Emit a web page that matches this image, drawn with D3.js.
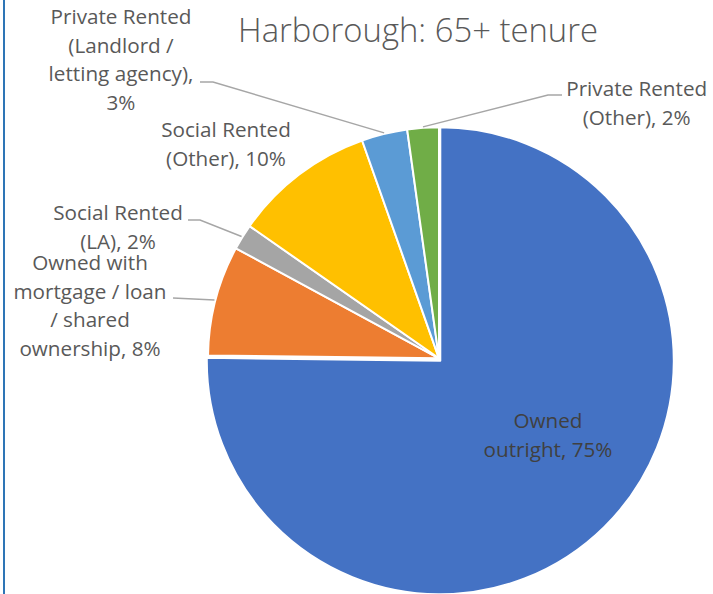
<!DOCTYPE html>
<html>
<head>
<meta charset="utf-8">
<script src="https://cdn.jsdelivr.net/npm/d3@7"></script>
<style>
  html, body { margin: 0; padding: 0; background: #fff; }
  svg { display: block; }
</style>
</head>
<body>
<svg id="chart" width="713" height="594"></svg>
<script>
// ---- data ----
const title = "Harborough: 65+ tenure";
const categories = [
  "Owned outright",
  "Owned with mortgage / loan / shared ownership",
  "Social Rented (LA)",
  "Social Rented (Other)",
  "Private Rented (Landlord / letting agency)",
  "Private Rented (Other)"
];
const values = [75.2, 7.7, 1.8, 9.9, 3.2, 2.2];
const colors = ["#4472C4", "#ED7D31", "#A5A5A5", "#FFC000", "#5B9BD5", "#70AD47"];
// label text broken into lines ({p} = percentage)
const labelLines = [
  ["Owned", "outright, {p}"],
  ["Owned with", "mortgage / loan", "/ shared", "ownership, {p}"],
  ["Social Rented", "(LA), {p}"],
  ["Social Rented", "(Other), {p}"],
  ["Private Rented", "(Landlord /", "letting agency),", "{p}"],
  ["Private Rented", "(Other), {p}"]
];

// ---- layout ----
const W = 713, H = 594;
const cx = 439, cy = 358.3;       // pie centre
const r = 231;                     // radius of small slices
const blueR = 233.5;               // radius of exploded main slice
const blueOffset = [1.3, 2.5];
const labelPos = [
  {x: 548, y: 428.3, fill: "#404040"},
  {x: 90, y: 270},
  {x: 118, y: 220},
  {x: 226, y: 137},
  {x: 121, y: 24},
  {x: 636.7, y: 96}
];
const lineH = 28.7;
const leaderElbows = [null, [[173, 298]], [[188, 220], [200, 220]], null, [[200, 82], [213, 82]], [[562, 95], [548, 95]]];

const svg = d3.select("#chart");
const FONT = "'Open Sans', 'Noto Sans', sans-serif";

// left border line
svg.append("line").attr("x1", 4).attr("x2", 4).attr("y1", 0).attr("y2", H)
  .attr("stroke", "#2E75B6").attr("stroke-width", 2);

// fit font sizes against measured reference widths
function fitSize(text, targetW, weight) {
  const t = svg.append("text").attr("font-family", FONT).attr("font-size", 100)
    .attr("font-weight", weight || 400).text(text);
  const w = t.node().getComputedTextLength();
  t.remove();
  return 100 * targetW / w;
}
const labelSize = fitSize("Private Rented", 141);
const titleSize = fitSize(title, 360, 300);

// title
svg.append("text")
  .attr("x", 418).attr("y", 42.3)
  .attr("text-anchor", "middle")
  .attr("font-family", FONT).attr("font-weight", 300)
  .attr("font-size", titleSize)
  .attr("fill", "#595959")
  .text(title);

// pie
const pie = d3.pie().sort(null).value(d => d)(values);
const arcSmall = d3.arc().innerRadius(0).outerRadius(r);
const arcBlue = d3.arc().innerRadius(0).outerRadius(blueR);

const g = svg.append("g").attr("transform", `translate(${cx},${cy})`);
g.selectAll("path.slice").data(pie).join("path")
  .attr("class", "slice")
  .attr("d", (d, i) => i === 0 ? arcBlue(d) : arcSmall(d))
  .attr("transform", (d, i) => i === 0 ? `translate(${blueOffset[0]},${blueOffset[1]})` : null)
  .attr("fill", (d, i) => colors[i])
  .attr("stroke", "#fff").attr("stroke-width", 2).attr("stroke-linejoin", "round");

// leader lines
pie.forEach((d, i) => {
  const elbows = leaderElbows[i];
  if (!elbows) return;
  const a = (d.startAngle + d.endAngle) / 2;
  const end = [cx + (r + 1) * Math.sin(a), cy - (r + 1) * Math.cos(a)];
  const pts = elbows.concat([end]);
  svg.append("path")
    .attr("d", d3.line()(pts))
    .attr("fill", "none").attr("stroke", "#A6A6A6").attr("stroke-width", 1.5);
});

// labels
pie.forEach((d, i) => {
  const pct = Math.round(d.data) + "%";
  const p = labelPos[i];
  const t = svg.append("text")
    .attr("text-anchor", "middle")
    .attr("font-family", FONT).attr("font-size", labelSize)
    .attr("fill", p.fill || "#595959");
  labelLines[i].forEach((ln, k) => {
    t.append("tspan").attr("x", p.x).attr("y", p.y + k * lineH).text(ln.replace("{p}", pct));
  });
});
</script>
</body>
</html>
